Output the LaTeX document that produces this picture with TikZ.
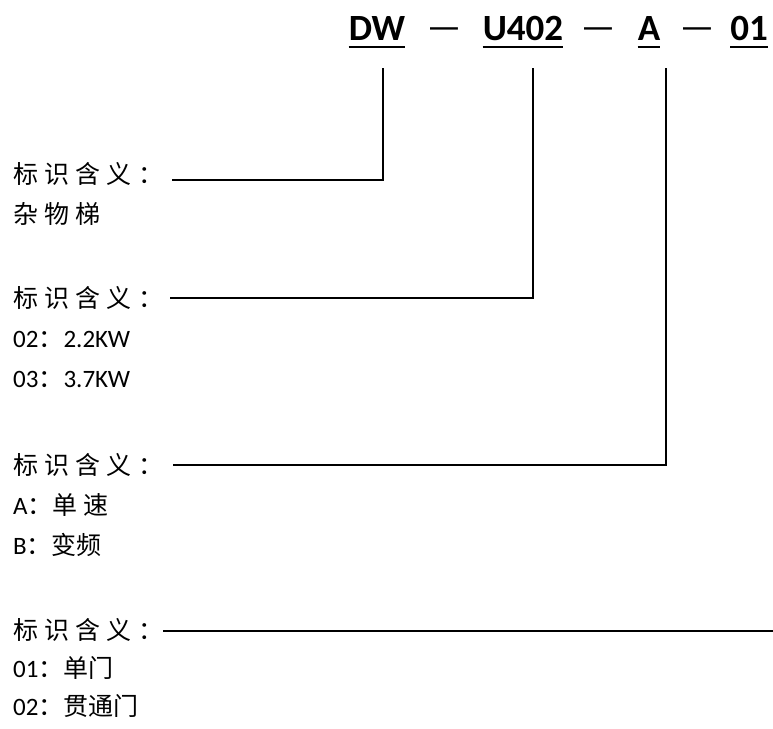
\documentclass[tikz,border=0pt]{standalone}
\usepackage{fontspec}
\setmainfont{Carlito}
\newfontfamily\cjk[LetterSpace=25]{Noto Sans CJK SC}
\newfontfamily\cjkn{Noto Sans CJK SC}
\usetikzlibrary{positioning}

\begin{document}
\begin{tikzpicture}[x=1pt, y=-1pt,
    lbl/.style={anchor=west, inner sep=0pt, text height=19pt, text depth=5pt, font=\fontsize{25}{25}\selectfont},
    code/.style={anchor=base, inner sep=0pt, font=\fontsize{37}{37}\selectfont\bfseries},
    sep/.style={anchor=base, inner sep=0pt, font=\fontsize{38}{38}\selectfont},
    lead/.style={line width=1.6pt},
    uline/.style={line width=2.4pt}]

        \useasboundingbox (0,0) rectangle (773,728);

        % Typenbezeichnung
        \node[code] (dw) at (377,40) {DW};
        \node[sep] (s1) at (444,39.5) {—};
        \node[code] (u402) at (523,40) {U402};
        \node[sep] (s2) at (598,39.5) {—};
        \node[code] (a) at (649,40) {A};
        \node[sep] (s3) at (697,39.5) {—};
        \node[code] (nr) at (749,40) {01};

        % Unterstriche
        \draw[uline] ([yshift=-7pt]dw.base west) -- ([yshift=-7pt]dw.base east);
        \draw[uline] ([yshift=-7pt]u402.base west) -- ([yshift=-7pt]u402.base east);
        \draw[uline] ([yshift=-7pt]a.base west) -- ([yshift=-7pt]a.base east);
        \draw[uline] ([yshift=-7pt]nr.base west) -- ([yshift=-7pt]nr.base east);

        % Erste Erklaerung
        \node[lbl] (k1) at (13,176) {\cjk 标识含义：};
        \node[lbl, below=16pt of k1.south west, anchor=north west] (dw1) {\cjk 杂物梯};

        % Zweite Erklaerung
        \node[lbl] (k2) at (13,300) {\cjk 标识含义：};
        \node[lbl, below=16pt of k2.south west, anchor=north west] (kw1) {02{\cjkn ：}2.2KW};
        \node[lbl, below=16pt of kw1.south west, anchor=north west] (kw2) {03{\cjkn ：}3.7KW};

        % Dritte Erklaerung
        \node[lbl] (k3) at (13,467) {\cjk 标识含义：};
        \node[lbl, below=16pt of k3.south west, anchor=north west] (ga) {A{\cjkn ：}{\cjk 单速}};
        \node[lbl, below=16pt of ga.south west, anchor=north west] (gb) {B{\cjkn ：变频}};

        % Vierte Erklaerung
        \node[lbl] (k4) at (13,632) {\cjk 标识含义：};
        \node[lbl, below=14pt of k4.south west, anchor=north west] (t1) {01{\cjkn ：单门}};
        \node[lbl, below=14pt of t1.south west, anchor=north west] (t2) {02{\cjkn ：贯通门}};

        % Linien
        \coordinate (v1) at (383,68);
        \coordinate (v2) at (533,68);
        \coordinate (v3) at (666,68);
        \coordinate (h1) at (172,180);
        \coordinate (h2) at (170,298);
        \coordinate (h3) at (173,465);
        \coordinate (h4) at (163,631);
        \coordinate (r4) at (773,631);

        \draw[lead] (v1) |- (h1);
        \draw[lead] (v2) |- (h2);
        \draw[lead] (v3) |- (h3);
        \draw[lead] (h4) -- (r4);

      \end{tikzpicture}
\end{document}
